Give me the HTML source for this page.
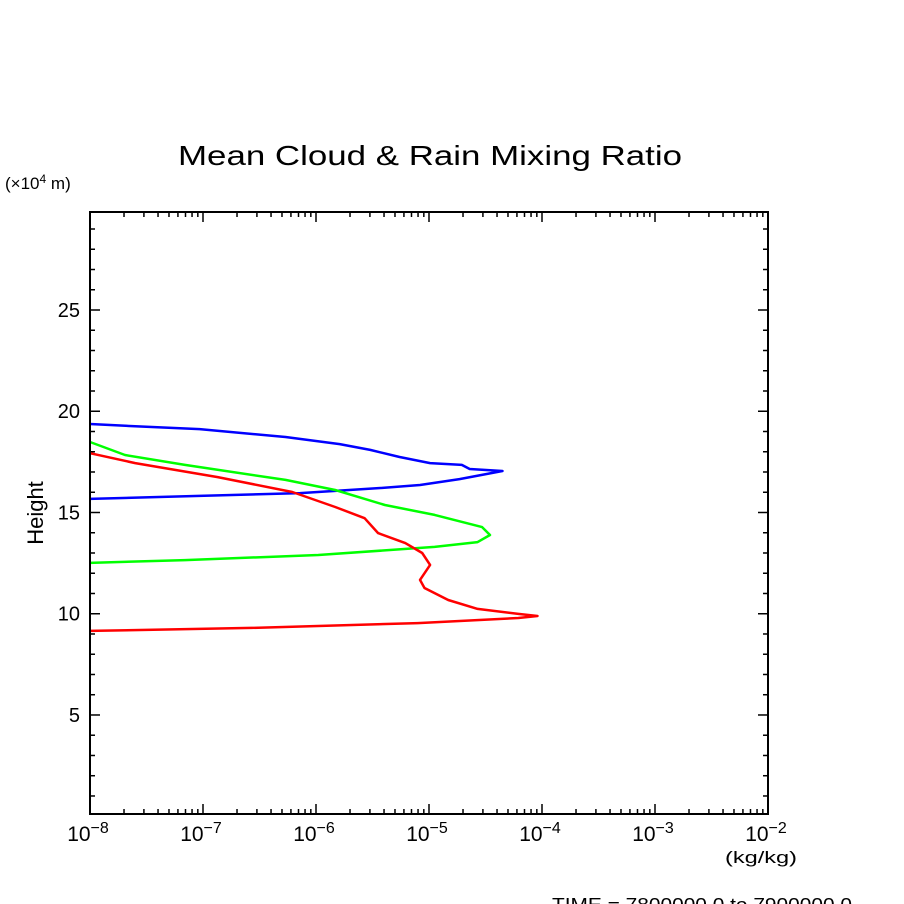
<!DOCTYPE html>
<html><head><meta charset="utf-8"><style>
html,body{margin:0;padding:0;background:#fff;}
svg{display:block;font-family:"Liberation Sans",sans-serif;}
</style></head><body>
<svg id="chart" width="904" height="904" viewBox="0 0 904 904">
<text x="178" y="165" font-size="28" textLength="504" lengthAdjust="spacingAndGlyphs">Mean Cloud &amp; Rain Mixing Ratio</text>
<text x="5" y="189" font-size="17">(×10<tspan font-size="12" dy="-6">4</tspan><tspan dy="6"> m)</tspan></text>
<text x="43" y="513" font-size="22" text-anchor="middle" transform="rotate(-90 43 513)">Height</text>
<text x="725" y="863" font-size="17" textLength="72" lengthAdjust="spacingAndGlyphs">(kg/kg)</text>
<text x="552" y="911" font-size="18" textLength="300" lengthAdjust="spacingAndGlyphs">TIME = 7800000.0 to 7900000.0</text>
<g id="axes"></g>
<g id="series"></g>
<rect x="90" y="212" width="678" height="602" fill="none" stroke="#000" stroke-width="2"/>
</svg>
<script>
const xDecades = [-8, -7, -6, -5, -4, -3, -2];
const yTicks = [5, 10, 15, 20, 25];
const blueLogX = [-8,-7.65,-7.03,-6.27,-5.79,-5.52,-5.26,-4.99,-4.71,-4.64,-4.35,-4.73,-5.08,-5.43,-6.14,-7.03,-8];
const blueH = [19.37,19.27,19.12,18.73,18.38,18.09,17.74,17.44,17.35,17.15,17.05,16.65,16.36,16.21,15.96,15.82,15.67];
const greenLogX = [-8,-7.69,-7.16,-6.27,-5.83,-5.39,-4.95,-4.53,-4.46,-4.57,-4.95,-5.98,-7.16,-8];
const greenH = [18.48,17.84,17.35,16.61,16.11,15.37,14.88,14.28,13.89,13.54,13.30,12.90,12.65,12.51];
const redLogX = [-8,-7.60,-6.87,-6.21,-5.83,-5.57,-5.45,-5.21,-5.06,-4.99,-5.08,-5.04,-4.83,-4.57,-4.21,-4.04,-4.21,-5.10,-6.57,-8];
const redH = [17.93,17.44,16.75,16.01,15.27,14.72,13.98,13.49,13.00,12.41,11.67,11.27,10.68,10.24,9.99,9.89,9.79,9.54,9.30,9.15];

const X0=90,X1=768,Y0=814,Y1=212;
const xMin=-8,xMax=-2,yMin=0.11,yMax=29.84;
function xs(l){return X0+(l-xMin)/(xMax-xMin)*(X1-X0);}
function ys(h){return Y0-(h-yMin)/(yMax-yMin)*(Y0-Y1);}
const NS="http://www.w3.org/2000/svg";
const axes=document.getElementById('axes');
function line(x1,y1,x2,y2,name){
  const l=document.createElementNS(NS,'line');
  l.setAttribute('x1',x1);l.setAttribute('y1',y1);l.setAttribute('x2',x2);l.setAttribute('y2',y2);
  l.setAttribute('stroke','#000');l.setAttribute('stroke-width','1.5');
  
  
  axes.appendChild(l);
}
function txt(x,y,s,anchor,name,size){
  const t=document.createElementNS(NS,'text');
  t.setAttribute('x',x);t.setAttribute('y',y);t.setAttribute('font-size',size||'20');t.setAttribute('text-anchor',anchor);
  t.innerHTML=s;
  
  
  axes.appendChild(t);
}
xDecades.forEach((d,i)=>{
  const x=xs(d);
  if(i>0&&i<xDecades.length-1){line(x,Y0,x,Y0-10,'x-major-tick');line(x,Y1,x,Y1+10,'x-major-tick');}
  txt(x-2,Y0+27,'10<tspan font-size="16" dy="-8">−'+(-d)+'</tspan>','middle','x-tick-label','21');
  if(i<xDecades.length-1){
    for(let m=2;m<=9;m++){const xm=xs(d+Math.log10(m));
      line(xm,Y0,xm,Y0-5,'x-minor-tick');line(xm,Y1,xm,Y1+5,'x-minor-tick');}
  }
});
for(let v=1;v<=29;v++){
  const y=ys(v);const major=v%5===0;const len=major?10:5;
  line(X0,y,X0+len,y,'y-tick');line(X1,y,X1-len,y,'y-tick');
}
yTicks.forEach(v=>txt(X0-10,ys(v)+7,v,'end','y-tick-label','20'));
const sg=document.getElementById('series');
function series(lx,hy,color,name){
  const p=document.createElementNS(NS,'polyline');
  p.setAttribute('points',lx.map((l,i)=>xs(l).toFixed(1)+','+ys(hy[i]).toFixed(1)).join(' '));
  p.setAttribute('fill','none');p.setAttribute('stroke',color);p.setAttribute('stroke-width','2.5');
  p.setAttribute('stroke-linejoin','round');
  
  
  sg.appendChild(p);
}
series(blueLogX,blueH,'#0000ff','blue-series-line');
series(greenLogX,greenH,'#00ff00','green-series-line');
series(redLogX,redH,'#ff0000','red-series-line');
</script>
</body></html>
